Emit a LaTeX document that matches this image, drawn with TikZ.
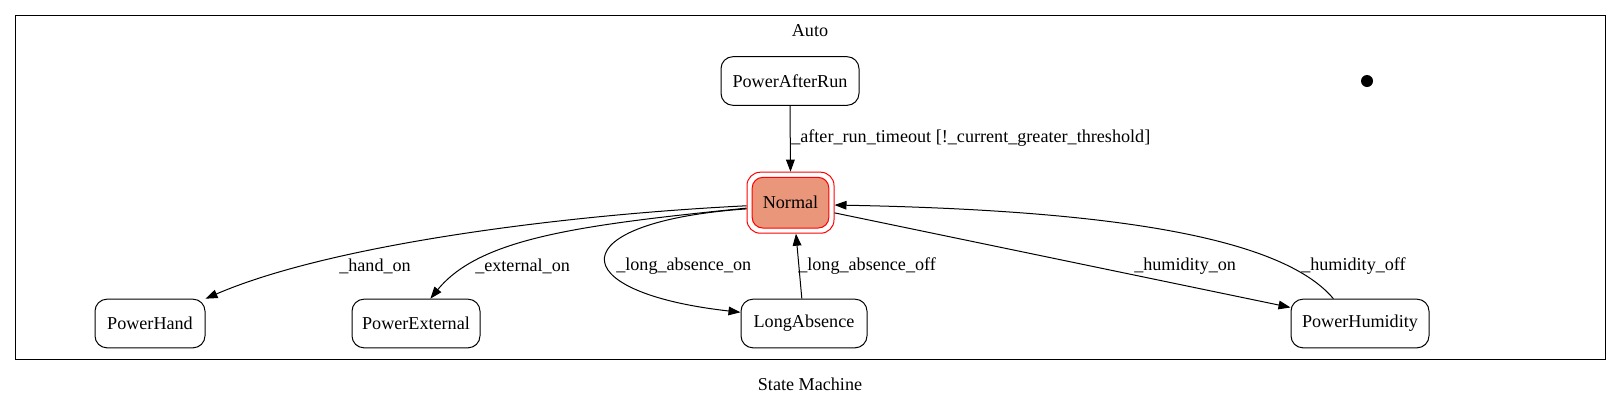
\documentclass[tikz,border=0pt]{standalone}
\usepackage{fontspec}
\setmainfont{Liberation Serif}
\usetikzlibrary{arrows.meta,fit}
\definecolor{salmonfill}{RGB}{233,150,122}
\begin{document}
\begin{tikzpicture}[x=0.75pt,y=-0.75pt,
  every node/.style={font=\fontsize{13.6}{16}\selectfont},
  state/.style={draw,rounded corners=9pt,minimum height=36.5pt,inner sep=0pt,line width=0.75pt},
  arr/.style={-{Triangle[length=9pt,width=6.5pt]},line width=0.75pt},
  lbl/.style={anchor=west,inner sep=0pt}]
\useasboundingbox (0,0) rectangle (1621,405);
\fill[white] (0,0) rectangle (1621,405);
\draw[line width=0.75pt] (15.5,15.7) rectangle (1605,359);
\node (autolbl) at (810,31) {Auto};
\node (smlbl) at (810,384) {State Machine};

\node[state,minimum width=103.5pt] (par) at (790,81) {PowerAfterRun};
\node[state,draw=red,fill=salmonfill,minimum width=57.5pt,minimum height=38pt,rounded corners=8pt] (normal) at (790.5,202.7) {Normal};
\node[draw=red,line width=0.75pt,rounded corners=10pt,inner sep=3.5pt,fit=(normal)] (nout) {};
\node[state,minimum width=82.5pt] (hand) at (150,323.5) {PowerHand};
\node[state,minimum width=96pt] (ext) at (416,323.5) {PowerExternal};
\node[state,minimum width=94.5pt] (long) at (804,323.5) {LongAbsence};
\node[state,minimum width=103.5pt] (hum) at (1360,323.5) {PowerHumidity};
\node[circle,fill=black,inner sep=0pt,minimum size=9pt] (init) at (1367,81) {};

\draw[arr] (par.south) -- (nout.north);
\draw[arr] (nout.184) .. controls (560,215) and (330,245) .. (hand.north east);
\draw[arr] (nout.187) .. controls (580,225) and (480,238) .. (ext.60);
\draw[arr] (nout.188) .. controls (560,222) and (560,292) .. (long.170);
\draw[arr] (long.95) -- (nout.-80);
\draw[arr] (nout.-13) -- (hum.167);
\draw[arr] (hum.137) .. controls (1280,235) and (1100,210) .. (nout.-3);

\node[lbl] (l1) at (791,138) {\_after\_run\_timeout [!\_current\_greater\_threshold]};
\node[lbl] (l2) at (339,266) {\_hand\_on};
\node[lbl] (l3) at (475,266) {\_external\_on};
\node[lbl] (l4) at (616,266) {\_long\_absence\_on};
\node[lbl] (l5) at (798,266) {\_long\_absence\_off};
\node[lbl] (l6) at (1134,266) {\_humidity\_on};
\node[lbl] (l7) at (1301,266) {\_humidity\_off};
\end{tikzpicture}
\end{document}
